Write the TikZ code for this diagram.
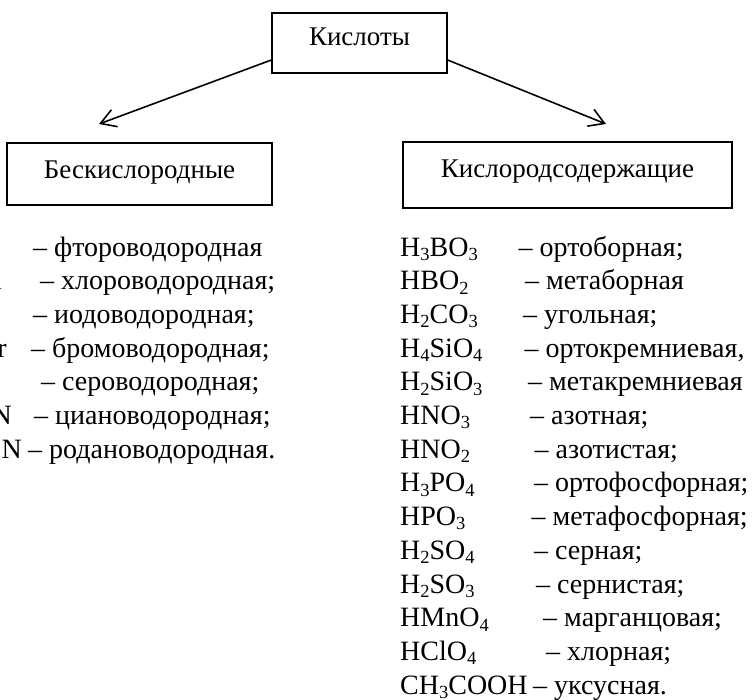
\documentclass[tikz,border=0pt]{standalone}
\usepackage{fontspec}
\setmainfont{Liberation Serif}
\usetikzlibrary{arrows.meta}
\newcommand{\chsub}[1]{\raisebox{-4.3pt}{\fontsize{18.5}{18.5}\selectfont #1}}

\begin{document}
\begin{tikzpicture}[x=1pt,y=1pt,
  box/.style={draw, line width=1.3pt, inner sep=0pt, anchor=base,
    font=\fontsize{27}{30}\selectfont},
  arr/.style={line width=1.6pt, -{Straight Barb[length=15pt,width=18pt]}},
  formula/.style={inner sep=0pt, anchor=base west, font=\fontsize{28}{33}\selectfont},
  lformula/.style={inner sep=0pt, anchor=base east, font=\fontsize{28}{33}\selectfont},
  desc/.style={inner sep=0pt, anchor=base west, font=\fontsize{28}{33}\selectfont}
]
\useasboundingbox (0,0) rectangle (755,-699);
\clip (0,0) rectangle (755,-699);

% boxes
\node[box, minimum width=175pt, text height=32pt, text depth=28pt] (top) at (359.5,-45) {Кислоты};
\node[box, minimum width=265pt, text height=35pt, text depth=27pt] (left) at (139.5,-178) {Бескислородные};
\node[box, minimum width=329pt, text height=35pt, text depth=31pt] (right) at (567.5,-177) {Кислородсодержащие};

% arrows
\coordinate (lt) at (99,-124);
\coordinate (rt) at (606,-124);
\draw[arr] ([yshift=-17pt]top.west) -- (lt);
\draw[arr] ([yshift=-17pt]top.east) -- (rt);

% left list
\foreach \i/\f/\fx/\dx/\d in {
  1/HF/-10/33/{– фтороводородная},
  2/HCl/2/40/{– хлороводородная;},
  3/HI/-16/33/{– иодоводородная;},
  4/HBr/7/31/{– бромоводородная;},
  5/{H\chsub{2}S}/-3/41/{– сероводородная;},
  6/HCN/12/34/{– циановодородная;},
  7/HSCN/22/28/{– родановодородная.}}
{
  \node[lformula] (lf\i) at (\fx,{-256-(\i-1)*33.7}) {\f};
  \node[desc] (ld\i) at (\dx,{-256-(\i-1)*33.7}) {\d};
}

% right list
\foreach \i/\f/\dx/\d in {
  1/{H\chsub{3}BO\chsub{3}}/518.5/{– ортоборная;},
  2/{HBO\chsub{2}}/525/{– метаборная},
  3/{H\chsub{2}CO\chsub{3}}/523/{– угольная;},
  4/{H\chsub{4}SiO\chsub{4}}/524.5/{– ортокремниевая,},
  5/{H\chsub{2}SiO\chsub{3}}/528/{– метакремниевая},
  6/{HNO\chsub{3}}/530/{– азотная;},
  7/{HNO\chsub{2}}/534.5/{– азотистая;},
  8/{H\chsub{3}PO\chsub{4}}/534/{– ортофосфорная;},
  9/{HPO\chsub{3}}/531.5/{– метафосфорная;},
  10/{H\chsub{2}SO\chsub{4}}/534/{– серная;},
  11/{H\chsub{2}SO\chsub{3}}/536/{– сернистая;},
  12/{HMnO\chsub{4}}/543/{– марганцовая;},
  13/{HClO\chsub{4}}/546/{– хлорная;},
  14/{CH\chsub{3}COOH}/533/{– уксусная.}}
{
  \node[formula] (rf\i) at (400,{-256-(\i-1)*33.7}) {\f};
  \node[desc] (rd\i) at (\dx,{-256-(\i-1)*33.7}) {\d};
}
\end{tikzpicture}
\end{document}
